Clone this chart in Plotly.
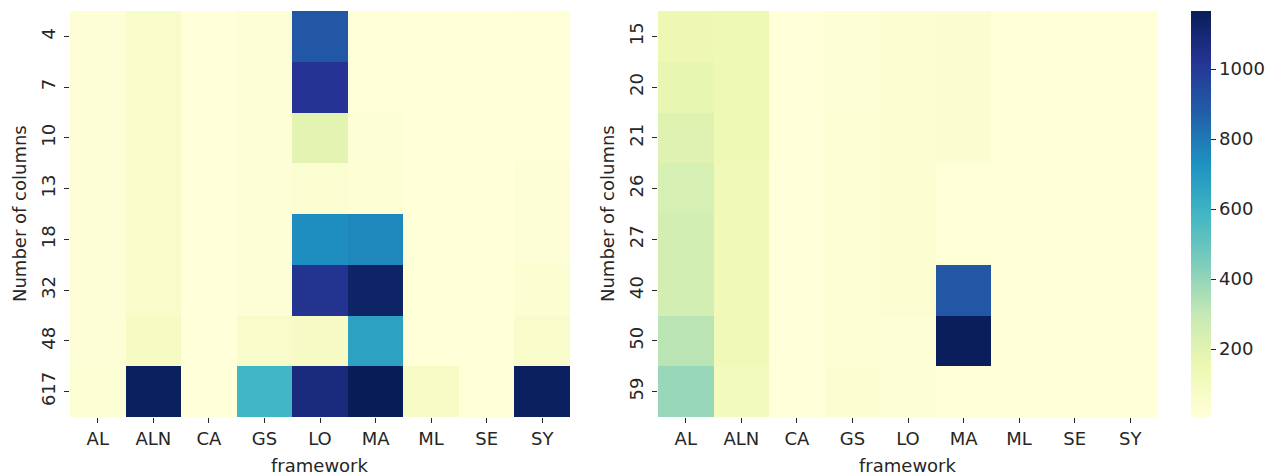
import plotly.graph_objects as go

frameworks = ["AL", "ALN", "CA", "GS", "LO", "MA", "ML", "SE", "SY"]

left_rows = ["4", "7", "10", "13", "18", "32", "48", "617"]
left_values = [
    [20, 60, 6, 18, 900, 14, 10, 8, 14],
    [20, 60, 6, 18, 1020, 16, 10, 8, 16],
    [20, 60, 6, 18, 190, 22, 10, 8, 16],
    [20, 60, 6, 20, 35, 24, 10, 8, 18],
    [20, 60, 6, 20, 740, 760, 10, 8, 20],
    [20, 62, 6, 20, 1030, 1130, 10, 8, 35],
    [20, 85, 6, 60, 80, 670, 10, 8, 60],
    [28, 1150, 6, 585, 1075, 1166, 70, 10, 1150],
]

right_rows = ["15", "20", "21", "26", "27", "40", "50", "59"]
right_values = [
    [145, 140, 6, 20, 30, 40, 8, 8, 8],
    [175, 140, 6, 20, 35, 40, 8, 8, 8],
    [205, 140, 6, 25, 35, 40, 8, 8, 8],
    [240, 130, 6, 25, 30, 15, 8, 8, 8],
    [250, 130, 6, 25, 30, 15, 8, 8, 8],
    [250, 128, 6, 25, 30, 900, 8, 8, 8],
    [320, 125, 6, 25, 22, 1160, 8, 8, 8],
    [390, 105, 6, 30, 22, 15, 8, 8, 8],
]

cbar_ticks = [200, 400, 600, 800, 1000]

ylgnbu = [
    [0.0, "#ffffd9"], [0.125, "#edf8b1"], [0.25, "#c7e9b4"],
    [0.375, "#7fcdbb"], [0.5, "#41b6c4"], [0.625, "#1d91c0"],
    [0.75, "#225ea8"], [0.875, "#253494"], [1.0, "#081d58"],
]

all_vals = [v for row in left_values + right_values for v in row]
zmin, zmax = min(all_vals), max(all_vals)

W, H = 1273, 474
OFF = 8  # default page body margin
FONT = "DejaVu Sans"
FS = 18
TXT = "#262626"

def px(x):
    return (x - OFF) / W

def py(y):
    return 1 - (y - OFF) / H

top, bottom = 11, 417

fig = go.Figure()
fig.add_trace(go.Heatmap(
    z=left_values, x=frameworks, y=left_rows,
    colorscale=ylgnbu, zmin=zmin, zmax=zmax,
    xaxis="x", yaxis="y", showscale=False,
))
fig.add_trace(go.Heatmap(
    z=right_values, x=frameworks, y=right_rows,
    colorscale=ylgnbu, zmin=zmin, zmax=zmax,
    xaxis="x2", yaxis="y2", showscale=True,
    colorbar=dict(
        x=px(1191), xanchor="left", y=py(bottom), yanchor="bottom",
        len=(bottom - top) / H, lenmode="fraction",
        thickness=20, thicknessmode="pixels", outlinewidth=0,
        tickvals=cbar_ticks, ticks="outside", ticklen=5, tickwidth=1,
        tickcolor=TXT, tickfont=dict(family=FONT, size=FS, color=TXT),
        xpad=0, ypad=0,
    ),
))

axis_common = dict(
    showgrid=False, zeroline=False, showline=False,
    ticks="outside", ticklen=5, tickwidth=1, tickcolor=TXT,
    tickfont=dict(family=FONT, size=FS, color=TXT),
    automargin=False,
)

fig.update_layout(
    width=W, height=H,
    margin=dict(l=0, r=0, t=0, b=0),
    paper_bgcolor="white", plot_bgcolor="white",
    font=dict(family=FONT, size=FS, color=TXT),
    xaxis=dict(domain=[px(70), px(570)], anchor="y", type="category", **axis_common),
    yaxis=dict(domain=[py(bottom), py(top)], anchor="x", type="category",
               autorange="reversed", tickangle=-90, ticklabelstandoff=2, **axis_common),
    xaxis2=dict(domain=[px(658), px(1158)], anchor="y2", type="category", **axis_common),
    yaxis2=dict(domain=[py(bottom), py(top)], anchor="x2", type="category",
                autorange="reversed", tickangle=-90, ticklabelstandoff=2, **axis_common),
    annotations=[
        dict(text="Number of columns", x=px(19), y=py((top + bottom) / 2),
             xref="paper", yref="paper", textangle=-90, showarrow=False,
             xanchor="center", yanchor="middle",
             font=dict(family=FONT, size=FS, color=TXT)),
        dict(text="Number of columns", x=px(607), y=py((top + bottom) / 2),
             xref="paper", yref="paper", textangle=-90, showarrow=False,
             xanchor="center", yanchor="middle",
             font=dict(family=FONT, size=FS, color=TXT)),
        dict(text="framework", x=px(320), y=py(465),
             xref="paper", yref="paper", showarrow=False,
             xanchor="center", yanchor="middle",
             font=dict(family=FONT, size=FS, color=TXT)),
        dict(text="framework", x=px(908), y=py(465),
             xref="paper", yref="paper", showarrow=False,
             xanchor="center", yanchor="middle",
             font=dict(family=FONT, size=FS, color=TXT)),
    ],
)

fig.write_html("out.html")
